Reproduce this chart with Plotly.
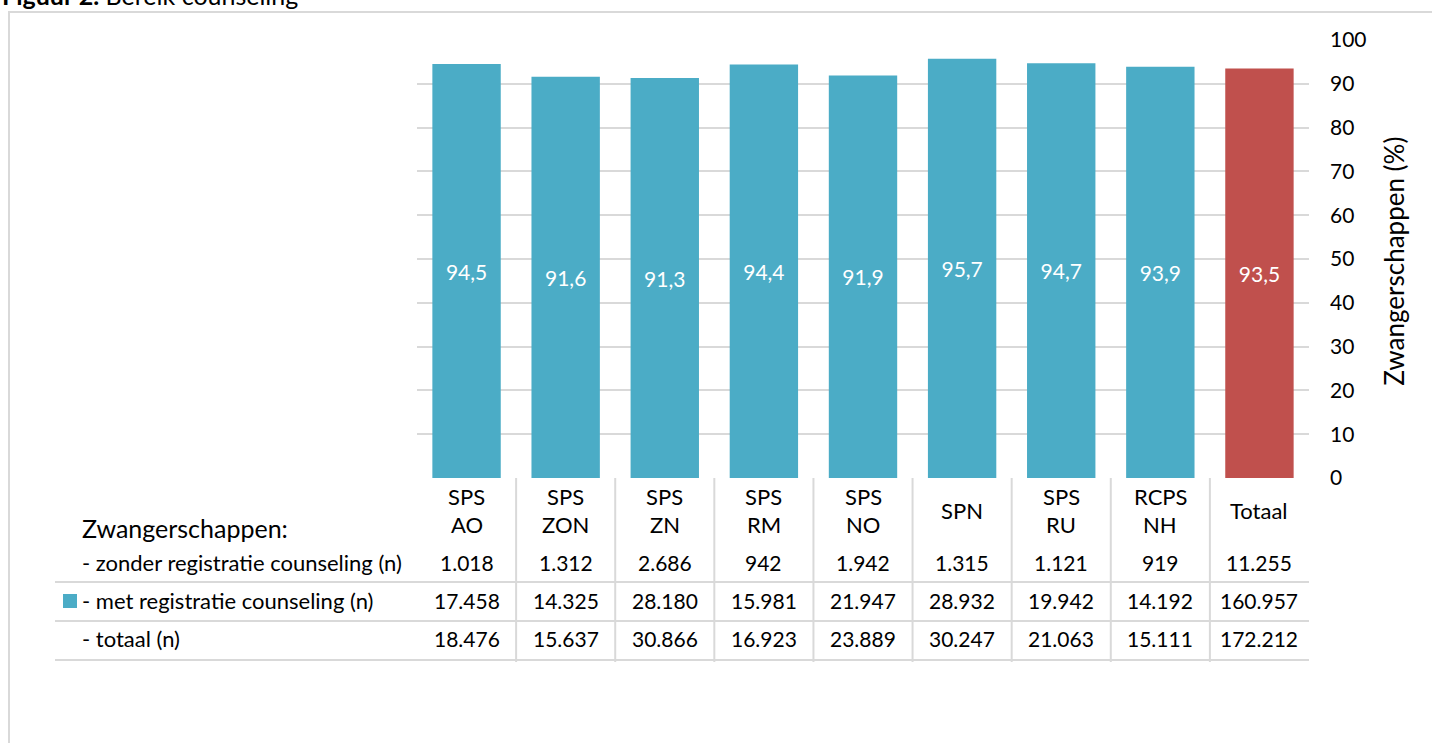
import plotly.graph_objects as go

# Regions (two-line column headers) and counts per region
cat_top = ["SPS", "SPS", "SPS", "SPS", "SPS", "SPN", "SPS", "RCPS", "Totaal"]
cat_bottom = ["AO", "ZON", "ZN", "RM", "NO", "", "RU", "NH", ""]
zonder = [1018, 1312, 2686, 942, 1942, 1315, 1121, 919, 11255]
met = [17458, 14325, 28180, 15981, 21947, 28932, 19942, 14192, 160957]
totaal = [18476, 15637, 30866, 16923, 23889, 30247, 21063, 15111, 172212]
percent = [94.5, 91.6, 91.3, 94.4, 91.9, 95.7, 94.7, 93.9, 93.5]

W, H = 1432, 743
FONT = "Lato"
FS_NUM = 21      # numbers
FS_TXT = 22      # words
TEAL = "#4BACC6"
RED = "#C0504D"
GRID = "#D9D9D9"
TXT = "#000000"

X_LEFT, X_RIGHT = 417, 1309      # plot area in pixels
Y_TOP, Y_BASE = 40, 478
SHIFT = 0.64     # annotation text sits this many em above its anchor in Lato


def py(y):
    """pixel row -> paper y"""
    return 1 - y / H


def px(x):
    """pixel column -> paper x"""
    return x / W


def ty(y, size):
    """paper y for a text line whose glyphs should be centred on pixel row y"""
    return py(y + SHIFT * size)


def nl(v):
    return f"{v:,}".replace(",", ".")


def fnt(size):
    return dict(family=FONT, size=size, color=TXT)


keys = list(range(len(percent)))
colors = [TEAL] * (len(percent) - 1) + [RED]

fig = go.Figure()
fig.add_trace(go.Bar(
    x=keys, y=percent, marker=dict(color=colors, line=dict(width=0)),
    text=percent, texttemplate="%{y:.1f}", textposition="inside",
    insidetextanchor="middle", textangle=0, constraintext="none",
    textfont=dict(family=FONT, size=FS_NUM, color="white"),
    hoverinfo="skip", showlegend=False,
))

annotations = []
shapes = []

# figure caption
annotations.append(dict(
    text="<b>Figuur 2.</b> Bereik counseling", x=px(0), y=py(12),
    xref="paper", yref="paper", xanchor="left", yanchor="bottom",
    showarrow=False, font=fnt(25),
))

# frame around the chart
shapes.append(dict(type="rect", xref="paper", yref="paper",
                   x0=px(9), x1=px(W + 20), y0=py(12), y1=py(H + 20),
                   line=dict(color=GRID, width=2), fillcolor="rgba(0,0,0,0)",
                   layer="below"))

# axis title (rotated)
annotations.append(dict(
    text="Zwangerschappen (%)", x=px(1395 + SHIFT * 26), y=py((Y_TOP + Y_BASE) / 2 + 2),
    xref="paper", yref="paper", textangle=-90, showarrow=False,
    font=fnt(26),
))

# column headers
for i in keys:
    if cat_bottom[i]:
        annotations.append(dict(text=cat_top[i], x=i, y=ty(497.5, FS_TXT), xref="x", yref="paper",
                                showarrow=False, font=fnt(FS_TXT)))
        annotations.append(dict(text=cat_bottom[i], x=i, y=ty(526, FS_TXT), xref="x", yref="paper",
                                showarrow=False, font=fnt(FS_TXT)))
    else:
        annotations.append(dict(text=cat_top[i], x=i, y=ty(511.5, FS_TXT), xref="x", yref="paper",
                                showarrow=False, font=fnt(FS_TXT)))

# table rows
rows = [(564, "- zonder registratie counseling (n)", zonder),
        (602, "- met registratie counseling (n)", met),
        (640, "- totaal (n)", totaal)]
for yrow, label, vals in rows:
    annotations.append(dict(text=label, x=px(80), y=ty(yrow, FS_TXT), xref="paper", yref="paper",
                            xanchor="left", showarrow=False, font=fnt(FS_TXT)))
    for i, v in enumerate(vals):
        annotations.append(dict(text=nl(v), x=i, y=ty(yrow, FS_NUM), xref="x", yref="paper",
                                showarrow=False, font=fnt(FS_NUM)))

annotations.append(dict(text="Zwangerschappen:", x=px(80), y=ty(529, 25), xref="paper", yref="paper",
                        xanchor="left", showarrow=False, font=fnt(25)))

# legend swatch
shapes.append(dict(type="rect", xref="paper", yref="paper",
                   x0=px(63), x1=px(77), y0=py(608), y1=py(594),
                   fillcolor=TEAL, line=dict(width=0)))

# table grid
for yl in (582, 621, 660):
    shapes.append(dict(type="line", xref="paper", yref="paper",
                       x0=px(55), x1=px(X_RIGHT), y0=py(yl), y1=py(yl),
                       line=dict(color=GRID, width=2)))
for k in range(len(keys) - 1):
    shapes.append(dict(type="line", xref="x", yref="paper",
                       x0=k + 0.5, x1=k + 0.5, y0=py(Y_BASE), y1=py(662),
                       line=dict(color=GRID, width=2)))

fig.update_layout(
    width=W, height=H, margin=dict(l=0, r=0, t=0, b=0, autoexpand=False),
    paper_bgcolor="white", plot_bgcolor="white",
    separators=",.",
    bargap=0.31,
    font=fnt(FS_NUM),
    xaxis=dict(domain=[px(X_LEFT), px(X_RIGHT)], range=[-0.5, len(keys) - 0.5],
               showticklabels=False, showgrid=False, zeroline=False, ticks="",
               fixedrange=True, automargin=False),
    yaxis=dict(domain=[py(Y_BASE), py(Y_TOP)], range=[0, 100], side="right",
               tickvals=list(range(0, 101, 10)), showgrid=True, gridcolor=GRID,
               gridwidth=2, zeroline=False, ticks="", ticklabelstandoff=20,
               tickfont=fnt(FS_NUM), showline=False, automargin=False,
               fixedrange=True),
    annotations=annotations, shapes=shapes,
)

fig.write_html("out.html")
